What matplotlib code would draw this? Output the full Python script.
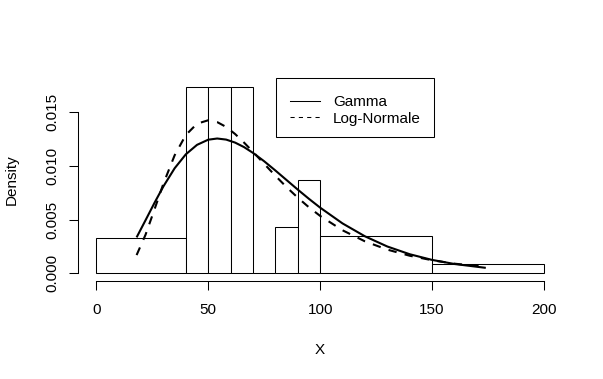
import numpy as np
import matplotlib
matplotlib.use("Agg")
import matplotlib.pyplot as plt
from matplotlib.patches import Rectangle
from matplotlib.lines import Line2D

plt.rcParams['font.family'] = ['Liberation Sans', 'DejaVu Sans']

# ---- data ----
bin_edges = [0, 40, 50, 60, 70, 80, 90, 100, 150, 200]
bin_counts = [3, 4, 4, 4, 0, 1, 2, 4, 1]
n_obs = 23

curve_x = [18, 22, 26, 30, 35, 40, 45, 50, 54, 58, 62, 66, 70, 75, 80, 85,
           90, 95, 100, 110, 120, 130, 140, 150, 160, 174]
gamma_density = [0.00335, 0.00495, 0.00657, 0.00811, 0.00979, 0.01109, 0.01197,
                 0.01245, 0.01256, 0.01246, 0.01218, 0.01176, 0.01122, 0.01044,
                 0.00958, 0.00869, 0.00780, 0.00694, 0.00612, 0.00465, 0.00345,
                 0.00250, 0.00178, 0.00125, 0.00087, 0.00051]
lognorm_density = [0.00170, 0.00360, 0.00596, 0.00837, 0.01100, 0.01289, 0.01394,
                   0.01426, 0.01409, 0.01364, 0.01298, 0.01218, 0.01132, 0.01020,
                   0.00909, 0.00803, 0.00705, 0.00615, 0.00535, 0.00401, 0.00298,
                   0.00221, 0.00164, 0.00122, 0.00090, 0.00060]

x_ticks = [0, 50, 100, 150, 200]
y_ticks = [0.000, 0.005, 0.010, 0.015]
y_tick_labels = ["0.000", "0.005", "0.010", "0.015"]
legend_labels = ["Gamma", "Log-Normale"]

FS = 11

W, H = 603, 379
fig = plt.figure(figsize=(W / 100, H / 100), dpi=100)
ax = fig.add_axes([78.4 / W, 1 - 280.8 / H, 483.5 / W, 201.6 / H])

edges = np.array(bin_edges, dtype=float)
widths = np.diff(edges)
dens = np.array(bin_counts) / (n_obs * widths)
ax.bar(edges[:-1], dens, width=widths, align='edge', facecolor='white',
       edgecolor='black', linewidth=0.75)

ax.plot(curve_x, gamma_density, color='black', linewidth=1.5, solid_capstyle='butt')
ax.plot(curve_x, lognorm_density, color='black', linewidth=1.5,
        linestyle=(0, (4, 4)), dash_capstyle='butt')

ax.set_xlim(-8, 208)
ax.set_ylim(-0.000696, 0.018086)

for s in ['top', 'right']:
    ax.spines[s].set_visible(False)
ax.spines['bottom'].set_bounds(0, 200)
ax.spines['left'].set_bounds(0, 0.015)
for s in ['bottom', 'left']:
    ax.spines[s].set_linewidth(0.75)

ax.set_xticks(x_ticks)
ax.set_xticklabels([str(t) for t in x_ticks])
ax.set_yticks(y_ticks)
ax.set_yticklabels(y_tick_labels, rotation=90, va='center')
ax.tick_params(axis='both', direction='out', length=6.5, width=0.75, labelsize=FS)
ax.tick_params(axis='x', pad=9.5)
ax.tick_params(axis='y', pad=7.5)

ax.set_xlabel("X", fontsize=FS)
ax.xaxis.set_label_coords(0.5, (280.8 - 350) / 201.6)
ax.xaxis.label.set_va('center')
ax.set_ylabel("Density", fontsize=FS)
ax.yaxis.set_label_coords((12 - 78.4) / 483.5, 0.5)
ax.yaxis.label.set_va('center')

# legend box (drawn in figure pixel coords)
def fx(px):
    return px / W

def fy(py):
    return 1 - py / H

fig.add_artist(Rectangle((fx(275.5), fy(136.5)), fx(433.5) - fx(275.5), fy(78) - fy(136.5),
                         transform=fig.transFigure, facecolor='white', edgecolor='black',
                         linewidth=0.75))
fig.add_artist(Line2D([fx(290), fx(320)], [fy(100.5), fy(100.5)], transform=fig.transFigure,
                      color='black', linewidth=0.75))
fig.add_artist(Line2D([fx(290), fx(320)], [fy(117), fy(117)], transform=fig.transFigure,
                      color='black', linewidth=0.75, linestyle=(0, (4, 4))))
fig.text(fx(333), fy(101.5), legend_labels[0], fontsize=FS, va='center', ha='left')
fig.text(fx(333), fy(118.5), legend_labels[1], fontsize=FS, va='center', ha='left')

fig.savefig("out.png", dpi=100)
